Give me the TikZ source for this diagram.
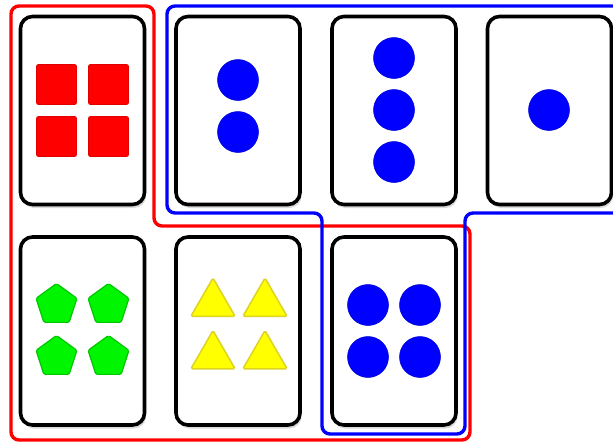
\documentclass[tikz,border=0pt]{standalone}
\usetikzlibrary{shapes.geometric,shadows}
\definecolor{setred}{RGB}{255,0,0}
\definecolor{setblue}{RGB}{0,0,255}
\definecolor{setgreen}{RGB}{0,245,0}
\definecolor{setyellow}{RGB}{255,255,0}
\tikzset{
  card/.style={draw=black, line width=3.6pt, fill=white, rounded corners=12pt,
    minimum width=124pt, minimum height=188pt, inner sep=0pt,
    drop shadow={shadow xshift=1.5pt, shadow yshift=-3.5pt, opacity=0.3}},
  sq/.style={rectangle, fill=setred, draw=red!88!black, line width=0.8pt,
    rounded corners=2pt, minimum size=40pt, inner sep=0pt},
  dot/.style={circle, fill=setblue, draw=setblue!85!black, line width=0.5pt,
    minimum size=41pt, inner sep=0pt},
  pent/.style={regular polygon, regular polygon sides=5, fill=setgreen,
    draw=green!78!black, line width=1.2pt, rounded corners=1.5pt,
    minimum size=43pt, inner sep=0pt},
  tri/.style={regular polygon, regular polygon sides=3, fill=setyellow,
    draw=yellow!85!black, line width=1.5pt, rounded corners=1.5pt,
    minimum size=51pt, inner sep=0pt},
  groupline/.style={line width=3.4pt, rounded corners=8pt}
}
\begin{document}
\begin{tikzpicture}[x=1pt,y=-1pt]
\useasboundingbox (0,0) rectangle (613,442);
% cards
\node[card] (c1) at (82.5,110.5) {};
\node[card] (c2) at (238,110.5) {};
\node[card] (c3) at (394,110.5) {};
\node[card] (c4) at (549.5,110.5) {};
\node[card] (c5) at (82.5,331) {};
\node[card] (c6) at (238,331) {};
\node[card] (c7) at (394,331) {};
% card 1: four red squares
\node[sq] (s1) at (56.5,84.5) {};
\node[sq] (s2) at (108.5,84.5) {};
\node[sq] (s3) at (56.5,136.5) {};
\node[sq] (s4) at (108.5,136.5) {};
% card 2: two blue dots
\node[dot] (d21) at (238,80) {};
\node[dot] (d22) at (238,132) {};
% card 3: three blue dots
\node[dot] (d31) at (394,58) {};
\node[dot] (d32) at (394,110) {};
\node[dot] (d33) at (394,162) {};
% card 4: one blue dot
\node[dot] (d41) at (549,110) {};
% card 5: four green pentagons
\node[pent] (p1) at (56.5,305) {};
\node[pent] (p2) at (108.5,305) {};
\node[pent] (p3) at (56.5,357) {};
\node[pent] (p4) at (108.5,357) {};
% card 6: four yellow triangles
\node[tri] (t1) at (213,303.5) {};
\node[tri] (t2) at (265,303.5) {};
\node[tri] (t3) at (213,356) {};
\node[tri] (t4) at (265,356) {};
% card 7: four blue dots
\node[dot] (d71) at (368,305) {};
\node[dot] (d72) at (420,305) {};
\node[dot] (d73) at (368,357) {};
\node[dot] (d74) at (420,357) {};
% group outlines
\draw[groupline, draw=setred] (11,6) -- (154,6) -- (154,226) -- (470,226)
  -- (470,440) -- (11,440) -- cycle;
\draw[groupline, draw=setblue] (625,6) -- (167,6) -- (167,213) -- (322,213)
  -- (322,434) -- (465,434) -- (465,213) -- (625,213);
\end{tikzpicture}
\end{document}
